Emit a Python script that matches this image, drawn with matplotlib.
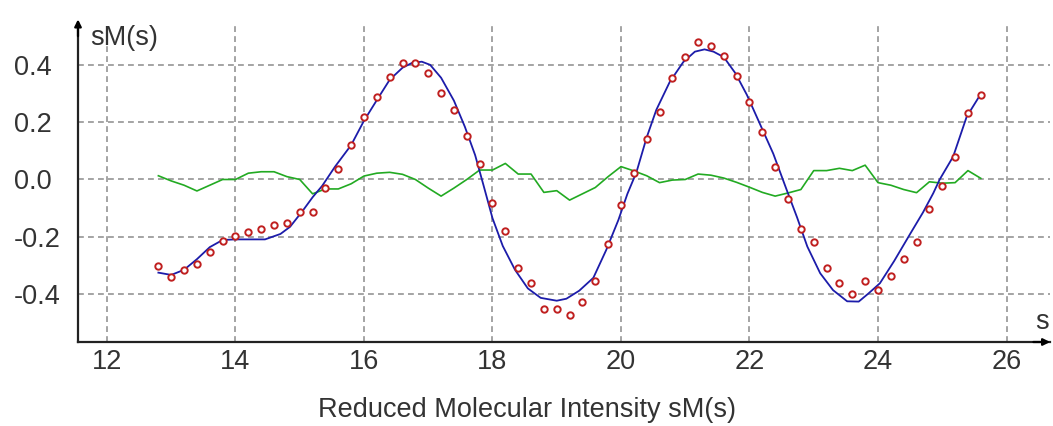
import numpy as np
import matplotlib
matplotlib.use("Agg")
import matplotlib.pyplot as plt

plt.rcParams['font.family'] = ['Liberation Sans', 'DejaVu Sans']
plt.rcParams['axes.unicode_minus'] = False

# experimental points (red circles)
s_exp = [12.8, 13.0, 13.2, 13.4, 13.6, 13.8, 14.0, 14.2, 14.4, 14.6, 14.8, 15.0, 15.2,
         15.4, 15.6, 15.8, 16.0, 16.2, 16.4, 16.6, 16.8, 17.0, 17.2, 17.4, 17.6, 17.8,
         18.0, 18.2, 18.4, 18.6, 18.8, 19.0, 19.2, 19.4, 19.6, 19.8, 20.0, 20.2, 20.4,
         20.6, 20.8, 21.0, 21.2, 21.4, 21.6, 21.8, 22.0, 22.2, 22.4, 22.6, 22.8, 23.0,
         23.2, 23.4, 23.6, 23.8, 24.0, 24.2, 24.4, 24.6, 24.8, 25.0, 25.2, 25.4, 25.6]
sm_exp = [-0.302, -0.341, -0.316, -0.296, -0.252, -0.213, -0.197, -0.182, -0.173, -0.160,
          -0.153, -0.115, -0.115, -0.031, 0.036, 0.120, 0.217, 0.287, 0.359, 0.408,
          0.408, 0.373, 0.301, 0.243, 0.152, 0.054, -0.082, -0.180, -0.310, -0.360,
          -0.453, -0.453, -0.473, -0.426, -0.354, -0.225, -0.088, 0.024, 0.140, 0.237,
          0.353, 0.427, 0.478, 0.466, 0.432, 0.361, 0.272, 0.166, 0.043, -0.068,
          -0.173, -0.219, -0.310, -0.360, -0.401, -0.354, -0.386, -0.336, -0.277, -0.219,
          -0.103, -0.023, 0.080, 0.231, 0.295]

# fitted curve (blue)
s_fit = [12.8, 13.0, 13.2, 13.4, 13.6, 13.8, 14.0, 14.2, 14.46, 14.7, 14.85, 15.05, 15.2,
         15.35, 15.55, 15.8, 16.0, 16.2, 16.4, 16.6, 16.75, 16.9, 17.03, 17.2, 17.4,
         17.57, 17.73, 17.86, 18.0, 18.16, 18.35, 18.55, 18.75, 19.0, 19.15, 19.35,
         19.57, 19.77, 19.96, 20.1, 20.24, 20.4, 20.55, 20.76, 20.97, 21.15, 21.3,
         21.44, 21.6, 21.78, 21.96, 22.17, 22.37, 22.58, 22.74, 22.9, 23.1, 23.3,
         23.52, 23.7, 23.85, 24.03, 24.25, 24.5, 24.7, 24.86, 24.96, 25.17, 25.38, 25.59]
sm_fit = [-0.325, -0.333, -0.315, -0.278, -0.236, -0.211, -0.209, -0.209, -0.209, -0.190,
          -0.165, -0.108, -0.062, -0.022, 0.045, 0.120, 0.205, 0.277, 0.348, 0.390,
          0.407, 0.411, 0.400, 0.355, 0.275, 0.184, 0.085, -0.020, -0.135, -0.232,
          -0.315, -0.380, -0.413, -0.423, -0.416, -0.388, -0.343, -0.246, -0.141, -0.050,
          0.025, 0.147, 0.243, 0.341, 0.410, 0.446, 0.454, 0.446, 0.427, 0.371,
          0.295, 0.190, 0.090, -0.037, -0.132, -0.234, -0.327, -0.386, -0.425, -0.426,
          -0.398, -0.362, -0.285, -0.190, -0.115, -0.048, 0.000, 0.080, 0.219, 0.295]

# difference curve (green)
s_diff = s_exp
sm_diff = [0.013, -0.005, -0.020, -0.040, -0.020, 0.000, 0.000, 0.022, 0.027, 0.027,
           0.010, 0.000, -0.050, -0.033, -0.033, -0.015, 0.012, 0.022, 0.025, 0.018,
           0.000, -0.030, -0.058, -0.030, 0.000, 0.033, 0.033, 0.056, 0.019, 0.019,
           -0.045, -0.039, -0.072, -0.050, -0.028, 0.010, 0.045, 0.030, 0.013, -0.011,
           -0.002, 0.000, 0.019, 0.015, 0.005, -0.010, -0.027, -0.045, -0.058, -0.047,
           -0.035, 0.031, 0.031, 0.039, 0.031, 0.050, -0.011, -0.020, -0.035, -0.046,
           -0.008, -0.013, -0.011, 0.031, 0.004]

xticks = [12, 14, 16, 18, 20, 22, 24, 26]
yticks = [-0.4, -0.2, 0.0, 0.2, 0.4]

W, H = 1053, 426
fig = plt.figure(figsize=(W / 100, H / 100), dpi=100)
ax = fig.add_axes([78 / W, (H - 342) / H, (1050 - 78) / W, (342 - 23) / H])

ax.plot(s_diff, sm_diff, color='#22aa22', lw=1.2, zorder=3)
ax.plot(s_fit, sm_fit, color='#1c1caa', lw=1.3, zorder=4)
ax.plot(s_exp, sm_exp, 'o', ms=4.6, mfc='white', mec='#c02020', mew=1.4, zorder=5)

ax.set_xlim(11.549, 26.677)
ax.set_ylim(-0.567, 0.546)
ax.set_xticks(xticks)
ax.set_yticks(yticks)
ax.set_xticklabels([str(t) for t in xticks])
ax.set_yticklabels(['%.1f' % t for t in yticks])

ax.grid(True, color='#959595', lw=1.2, linestyle=(0, (3.5, 2.5)))
ax.set_axisbelow(True)
for side in ['top', 'right']:
    ax.spines[side].set_visible(False)
for side in ['left', 'bottom']:
    ax.spines[side].set_linewidth(1.6)
    ax.spines[side].set_color('#222222')

fs = 19.5
ax.tick_params(length=0, labelsize=fs, labelcolor='#333333')
ax.tick_params(axis='x', pad=5)
ax.tick_params(axis='y', pad=46)
for lab in ax.get_yticklabels():
    lab.set_horizontalalignment('left')

# axis arrows
ax.annotate('', xy=(0, 1.02), xycoords='axes fraction', xytext=(0, 0.95),
            arrowprops=dict(arrowstyle='-|>', color='black', lw=1.6, mutation_scale=10))
ax.annotate('', xy=(1.003, 0), xycoords='axes fraction', xytext=(0.98, 0),
            arrowprops=dict(arrowstyle='-|>', color='black', lw=1.6, mutation_scale=10))

fig.text(90 / W, 1 - 38 / H, 'sM(s)', fontsize=fs, color='#333333', va='center', ha='left')
fig.text(1042 / W, 1 - 322 / H, 's', fontsize=fs, color='#333333', va='center', ha='center')
fig.text(527 / W, 1 - 410 / H, 'Reduced Molecular Intensity sM(s)', fontsize=fs,
         color='#333333', va='center', ha='center')

fig.savefig('out.png', dpi=100)
